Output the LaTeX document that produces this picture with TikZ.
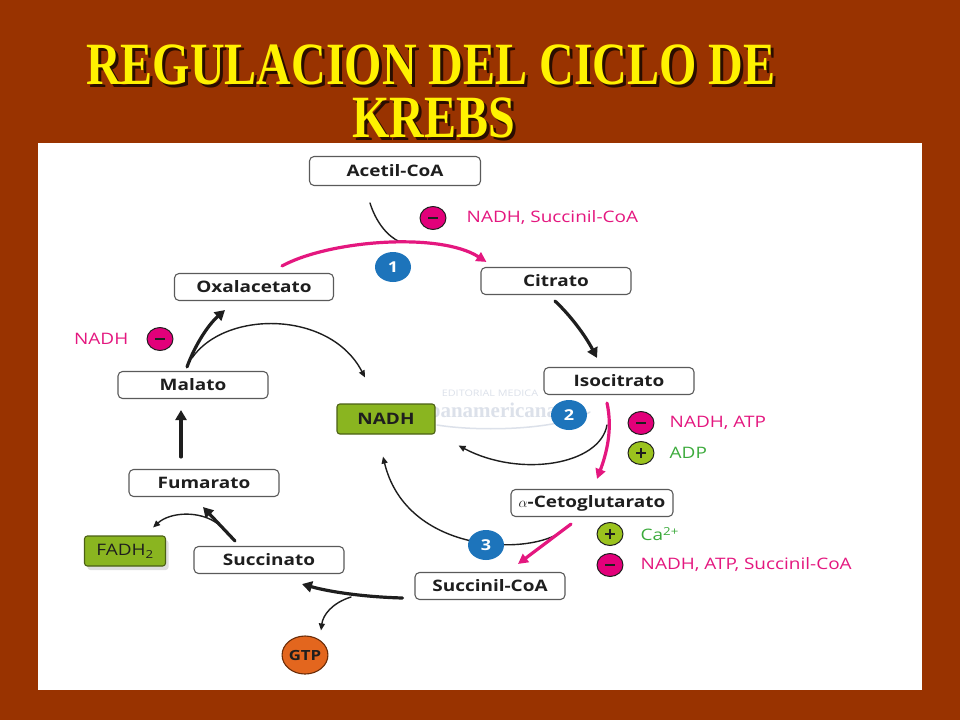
\documentclass[tikz,border=0pt]{standalone}
\usepackage{fontspec}
\setmainfont{Liberation Serif}
\newfontfamily\diagfont[FakeStretch=1.2]{Open Sans}
\newfontfamily\titlefont[FakeStretch=0.8]{Liberation Serif}
\usepackage{xcolor}
\usetikzlibrary{arrows.meta,positioning,shapes.geometric,shadows}
\definecolor{slidebrown}{HTML}{993300}
\definecolor{boxgrey}{HTML}{5A5A5A}
\definecolor{nadhgreen}{HTML}{8AB520}
\definecolor{nadhdark}{HTML}{4B6014}
\definecolor{gtporange}{HTML}{E3661E}
\definecolor{gtpdark}{HTML}{6A2C08}
\definecolor{stepblue}{HTML}{1D74BB}
\definecolor{inhmag}{HTML}{E2007A}
\definecolor{magtext}{HTML}{E4177F}
\definecolor{actlime}{HTML}{9BC31E}
\definecolor{acttextgreen}{HTML}{3BAA3B}
\definecolor{ink}{HTML}{1E1E1E}
\definecolor{wmark}{HTML}{DCE1EA}
\definecolor{titleshade}{HTML}{2A0E00}
\newcommand{\shadowed}[1]{\rlap{\hspace{3pt}\raisebox{-3pt}{\color{titleshade}#1}}#1}
\tikzset{
    every picture/.style={line cap=round,line join=round},
    metab/.style={draw=boxgrey,fill=white,line width=1.1pt,rounded corners=1.6mm,
      minimum width=150pt,minimum height=27pt,inner sep=2pt,text=ink,
      font=\diagfont\fontsize{15.8}{17}\selectfont\bfseries},
    product/.style={draw=nadhdark,fill=nadhgreen,line width=1.1pt,rounded corners=1mm,
      minimum height=30pt,inner sep=2pt,text=ink,
      font=\diagfont\fontsize{15.8}{17}\selectfont},
    gtpnode/.style={ellipse,draw=gtpdark,fill=gtporange,line width=1.1pt,
      minimum width=45pt,minimum height=38pt,inner sep=0pt,text=ink,
      font=\diagfont\fontsize{14}{16}\selectfont\bfseries},
    stepnum/.style={ellipse,fill=stepblue,minimum width=36pt,minimum height=30pt,
      inner sep=0pt,text=white,font=\diagfont\fontsize{15}{17}\selectfont\bfseries},
    regsign/.style={ellipse,draw=ink,line width=1pt,minimum width=26pt,
      minimum height=23pt,inner sep=0pt},
    inhibit/.style={regsign,fill=inhmag,
      path picture={\draw[ink,line width=2.2pt,line cap=butt]
        ([xshift=-5pt]path picture bounding box.center) -- ([xshift=5pt]path picture bounding box.center);}},
    activate/.style={regsign,fill=actlime,
      path picture={\draw[ink,line width=2.2pt,line cap=butt]
        ([xshift=-5pt]path picture bounding box.center) -- ([xshift=5pt]path picture bounding box.center)
        ([yshift=-5pt]path picture bounding box.center) -- ([yshift=5pt]path picture bounding box.center);}},
    inhtext/.style={inner sep=0pt,text=magtext,font=\diagfont\fontsize{15.8}{17}\selectfont},
    acttext/.style={inner sep=0pt,text=acttextgreen,font=\diagfont\fontsize{15.8}{17}\selectfont},
    mainarrow/.style={-{Triangle[length=10pt,width=11pt]},draw=ink,line width=3.2pt},
    pinkarrow/.style={-{Triangle[length=10pt,width=10pt]},draw=magtext,line width=3.2pt},
    thinarrow/.style={-{Triangle[length=7pt,width=6pt]},draw=ink,line width=1.4pt},
    titletext/.style={anchor=base,inner sep=0pt,text=yellow,
      font=\titlefont\fontsize{60}{60}\selectfont\bfseries},
    watermark/.style={inner sep=0pt,text=wmark}
}
\begin{document}
\begin{tikzpicture}[x=1pt,y=-1pt]
  \useasboundingbox (0,0) rectangle (960,720);
  \fill[slidebrown] (0,0) rectangle (960,720);
  \fill[white] (38,143) rectangle (922,690);
  % title
  \node[titletext] (t1) at (431,84) {\shadowed{REGULACION DEL CICLO DE}};
  \node[titletext] (t2) at (434,137) {\shadowed{KREBS}};
  \node[watermark,font=\diagfont\fontsize{9}{9}\selectfont] (wm1) at (490,393) {EDITORIAL MEDICA};
  \draw[wmark,line width=1.5pt] (437,425) .. controls (480,432) and (560,430) .. (590,412);
  \node[watermark,font=\bfseries\fontsize{21}{21}\selectfont] (wm2) at (493,412) {panamericana};
  % metabolites
  \node[metab,minimum width=171pt,minimum height=29pt] (acetil) at (395,171) {Acetil-CoA};
  \node[metab] (citrato) at (556,281) {Citrato};
  \node[metab] (isocit) at (619,381) {Isocitrato};
  \node[metab,minimum width=162pt] (akg) at (592,503) {$\alpha$-Cetoglutarato};
  \node[metab] (succoa) at (490,586) {Succinil-CoA};
  \node[metab] (succin) at (269,560) {Succinato};
  \node[metab] (fumar) at (204,483) {Fumarato};
  \node[metab] (malato) at (193,385) {Malato};
  \node[metab,minimum width=159pt] (oxal) at (254,287) {Oxalacetato};
  \node[product,minimum width=98pt] (nadh) at (386,419) {\bfseries NADH};
  \node[product,minimum width=81pt,
    drop shadow={shadow xshift=3pt,shadow yshift=-4pt,opacity=0.25}] (fadh) at (125,551) {FADH\textsubscript{2}};
  \node[gtpnode] (gtp) at (305,655) {GTP};
  % joins on the main arrows
  \coordinate (join1) at (400,242);
  \coordinate (join2) at (607,425);
  \coordinate (join3) at (556,535);
  \coordinate (join4) at (351,597);
  \coordinate (join5) at (218,524);
  \coordinate (join6) at (192,358);
  % side arrows
  \draw[thinarrow,-] ([xshift=-25pt,yshift=-17pt]acetil.south) .. controls (376,222) and (387,236) .. (join1);
  \draw[thinarrow] (join2) .. controls (600,465) and (520,478) .. ([xshift=23pt,yshift=-11pt]nadh.south east);
  \draw[thinarrow] (join3) .. controls (515,556) and (405,548) .. ([xshift=-3pt,yshift=-22pt]nadh.south);
  \draw[thinarrow] (join4) .. controls (332,603) and (323,615) .. ([xshift=16pt,yshift=5pt]gtp.north);
  \draw[thinarrow] (join5) .. controls (200,510) and (170,512) .. ([xshift=-13pt,yshift=8pt]fadh.north east);
  \draw[thinarrow] (join6) .. controls (225,310) and (330,310) .. ([xshift=-21pt,yshift=26pt]nadh.north);
  % cycle
  \draw[pinkarrow] ([xshift=28pt,yshift=7pt]oxal.north) .. controls (330,240) and (440,232) .. ([xshift=6pt,yshift=5pt]citrato.north west);
  \draw[mainarrow] ([xshift=-1pt,yshift=-6pt]citrato.south) .. controls (570,315) and (585,335) .. ([xshift=-22pt,yshift=9pt]isocit.north);
  \draw[pinkarrow] ([xshift=-12pt,yshift=-8pt]isocit.south) .. controls (613,430) and (606,455) .. ([xshift=5pt,yshift=10pt]akg.north);
  \draw[pinkarrow] ([xshift=-21pt,yshift=-7pt]akg.south) -- ([xshift=28pt,yshift=8pt]succoa.north);
  \draw[mainarrow] ([xshift=-12pt,yshift=-12pt]succoa.west) .. controls (365,597) and (330,592) .. ([xshift=33pt,yshift=-10pt]succin.south);
  \draw[mainarrow] ([xshift=-34pt,yshift=5pt]succin.north) -- ([xshift=-1pt,yshift=-10pt]fumar.south);
  \draw[mainarrow] ([xshift=-23pt,yshift=12pt]fumar.north) -- ([xshift=-12pt,yshift=-11pt]malato.south);
  \draw[mainarrow] ([xshift=-6pt,yshift=4pt]malato.north) .. controls (195,345) and (208,325) .. ([xshift=-29pt,yshift=-9pt]oxal.south);
  % enzyme steps
  \node[stepnum] (n1) at (393,267) {1};
  \node[stepnum] (n2) at (569,415) {2};
  \node[stepnum] (n3) at (486,545) {3};
  % regulators
  \node[inhibit] (r1) at (433,218) {};
  \node[inhtext,right=20pt of r1] (l1) {NADH, Succinil-CoA};
  \node[inhibit] (r2) at (160,339) {};
  \node[inhtext,left=18pt of r2] (l2) {NADH};
  \node[inhibit] (r3) at (641,423) {};
  \node[inhtext,right=15pt of r3] (l3) {NADH, ATP};
  \node[activate] (r4) at (641,453) {};
  \node[acttext,right=15pt of r4] (l4) {ADP};
  \node[activate] (r5) at (610,534) {};
  \node[acttext,right=17pt of r5] (l5) {Ca\textsuperscript{2+}};
  \node[inhibit] (r6) at (610,565) {};
  \node[inhtext,right=17pt of r6] (l6) {NADH, ATP, Succinil-CoA};
\end{tikzpicture}
\end{document}
